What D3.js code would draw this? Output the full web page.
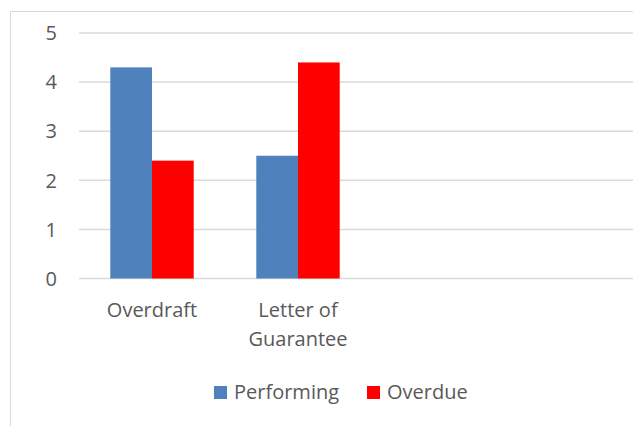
<!DOCTYPE html>
<html>
<head>
<meta charset="utf-8">
<script src="https://cdn.jsdelivr.net/npm/d3@7"></script>
<style>
  body { margin: 0; background: #fff; }
  text { font-family: "Open Sans", sans-serif; fill: #595959; }
</style>
</head>
<body>
<script>
// chart data
var categories = ["Overdraft", "Letter of Guarantee"];
var seriesNames = ["Performing", "Overdue"];
var performing = [4.3, 2.5];
var overdue = [2.4, 4.4];
var yTicks = [0, 1, 2, 3, 4, 5];
var colors = ["#4f81bd", "#ff0000"];

var width = 633, height = 426;
var fontSize = 20;
var svg = d3.select("body").append("svg").attr("width", width).attr("height", height);

// chart border (right and bottom are cut off in the original)
svg.append("path")
  .attr("d", "M10.5," + height + "V11.5H" + width)
  .attr("fill", "none")
  .attr("stroke", "#d9d9d9");

var plotLeft = 79, plotTop = 33, plotBottom = 278.5;
var step = 146;   // width of one category slot
var plotRight = plotLeft + step * 4;  // plot continues past the visible edge

var y = d3.scaleLinear().domain([0, 5]).range([plotBottom, plotTop]);

var x0 = d3.scaleBand()
  .domain(categories)
  .range([plotLeft, plotLeft + step * categories.length])
  .paddingInner(0.4286)
  .paddingOuter(0.2143);

var x1 = d3.scaleBand().domain(seriesNames).range([0, x0.bandwidth()]);

// gridlines
svg.append("g").selectAll("line")
  .data(yTicks)
  .enter().append("line")
  .attr("x1", plotLeft).attr("x2", plotRight)
  .attr("y1", function(d) { return y(d); })
  .attr("y2", function(d) { return y(d); })
  .attr("stroke", "#d9d9d9")
  .attr("stroke-width", 1.5);

// y tick labels
svg.append("g").selectAll("text")
  .data(yTicks)
  .enter().append("text")
  .attr("x", 57)
  .attr("y", function(d) { return y(d); })
  .attr("dy", "0.36em")
  .attr("text-anchor", "end")
  .attr("font-size", fontSize)
  .text(function(d) { return d; });

// bars
var rows = categories.map(function(c, i) {
  return { cat: c, values: [performing[i], overdue[i]] };
});

var groups = svg.append("g").selectAll("g")
  .data(rows)
  .enter().append("g")
  .attr("transform", function(d) { return "translate(" + x0(d.cat) + ",0)"; });

groups.selectAll("rect")
  .data(function(d) { return d.values.map(function(v, j) { return { name: seriesNames[j], value: v, j: j }; }); })
  .enter().append("rect")
  .attr("x", function(d) { return x1(d.name); })
  .attr("width", x1.bandwidth())
  .attr("y", function(d) { return y(d.value); })
  .attr("height", function(d) { return plotBottom - y(d.value); })
  .attr("fill", function(d) { return colors[d.j]; });

// category labels, wrapped like the original
var labelLines = { "Overdraft": ["Overdraft"], "Letter of Guarantee": ["Letter of", "Guarantee"] };
var xl = svg.append("g").selectAll("text")
  .data(categories)
  .enter().append("text")
  .attr("text-anchor", "middle")
  .attr("font-size", fontSize)
  .attr("x", function(d) { return x0(d) + x0.bandwidth() / 2; })
  .attr("y", 317);
xl.each(function(d) {
  var t = d3.select(this);
  labelLines[d].forEach(function(line, i) {
    t.append("tspan")
      .attr("x", x0(d) + x0.bandwidth() / 2)
      .attr("dy", i === 0 ? 0 : 29)
      .text(line);
  });
});

// legend
var legendX = [214, 367];
var legend = svg.append("g").selectAll("g")
  .data(seriesNames)
  .enter().append("g")
  .attr("transform", function(d, i) { return "translate(" + legendX[i] + ",386)"; });
legend.append("rect")
  .attr("width", 13).attr("height", 13)
  .attr("fill", function(d, i) { return colors[i]; });
legend.append("text")
  .attr("x", 20).attr("y", 13)
  .attr("font-size", fontSize)
  .text(function(d) { return d; });
</script>
</body>
</html>
